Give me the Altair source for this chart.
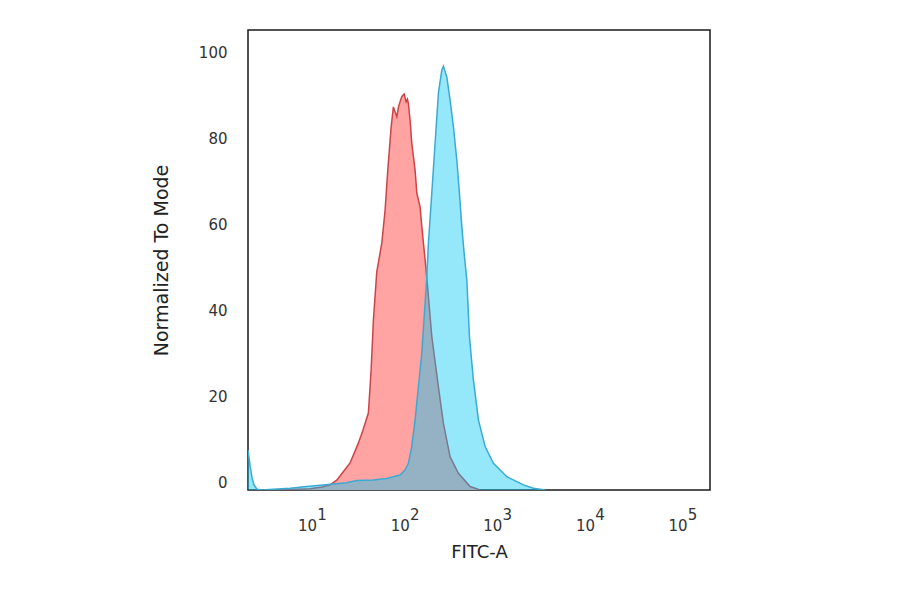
import altair as alt
import pandas as pd

# FITC-A intensity (x) and Normalized To Mode (y)
red_x = [3.56, 5.86, 9.63, 12.98, 15.84, 18.72, 21.88, 26.04, 32.0, 35.97, 41.05, 43.94,
         46.5, 50.55, 57.3, 62.2, 66.5, 72.3, 76.4, 79.8, 83.2, 87.1, 94.2, 99.8, 104.9,
         108.4, 111.0, 115.8, 120.7, 131.1, 136.8, 148.5, 155.0, 168.2, 178.1, 198.6, 234.0,
         265.0, 313.0, 384.6, 515.0, 660.0]
red_y = [0, 0.1, 0.3, 0.7, 1.2, 2.3, 4.2, 6.3, 10.9, 14.0, 17.9, 27.9,
         39.5, 50.7, 57.4, 65.1, 74.4, 84.4, 89.1, 87.9, 86.8, 89.3, 91.5, 92.1, 90.3,
         90.9, 89.9, 86.0, 80.7, 74.4, 69.1, 65.8, 61.2, 53.5, 47.7, 35.7, 24.0,
         15.5, 7.7, 3.9, 0.8, 0]

blue_x = [2.06, 2.17, 2.28, 2.39, 2.58, 2.92, 3.84, 5.86, 8.87, 17.2, 24.0, 30.8, 46.5,
          64.8, 90.3, 102.4, 111.0, 120.7, 131.1, 142.4, 155.0, 168.2, 175.4, 182.5, 198.6,
          215.6, 234.0, 254.7, 265.0, 288.4, 313.0, 340.0, 370.0, 394.6, 418.8, 443.5, 474.4,
          506.0, 558.5, 632.5, 747.6, 919.0, 1282.0, 1938.0, 2483.0, 3327.0]
blue_y = [9.3, 5.6, 2.8, 1.2, 0.2, 0, 0.2, 0.4, 0.8, 1.4, 1.7, 2.2, 2.3,
          2.7, 3.5, 4.7, 6.2, 10.1, 16.3, 24.0, 31.9, 43.5, 49.6, 57.4, 69.1,
          80.7, 92.3, 97.7, 98.6, 96.1, 90.7, 84.5, 76.7, 69.1, 61.2, 55.1, 48.8,
          35.7, 25.6, 16.3, 10.1, 6.2, 3.1, 1.2, 0.4, 0]

decades = [10, 100, 1000, 10000, 100000]
exponents = ["1", "2", "3", "4", "5"]
y_ticks = [0, 20, 40, 60, 80, 100]

W, H = 462, 460
FONT = "DejaVu Sans"

red = pd.DataFrame({"x": red_x, "y": red_y})
blue = pd.DataFrame({"x": blue_x, "y": blue_y})
ticks = pd.DataFrame({"x": decades, "exp": exponents})

xenc = alt.X(
    "x:Q",
    scale=alt.Scale(type="log", domain=[2.06, 2.0e5], nice=False),
    axis=alt.Axis(
        values=decades, labelExpr="'10'", ticks=False, domain=False, grid=False,
        labelFont=FONT, labelFontSize=15, labelColor="#333", labelOffset=-4.5,
        labelBaseline="middle", labelPadding=35, labelFlush=False,
        title="FITC-A", titleFont=FONT, titleFontSize=18, titleFontWeight="normal",
        titleColor="#222", titlePadding=10,
    ),
)
yenc = alt.Y(
    "y:Q",
    scale=alt.Scale(domain=[0, 107], nice=False, zero=False),
    axis=alt.Axis(
        values=y_ticks, ticks=False, domain=False, grid=False,
        labelFont=FONT, labelFontSize=15, labelColor="#333", labelOffset=-8,
        labelPadding=21, labelFlush=False,
        title="Normalized To Mode", titleFont=FONT, titleFontSize=19,
        titleFontWeight="normal", titleColor="#222", titlePadding=27,
    ),
)

red_area = alt.Chart(red).mark_area(color="#FFA3A3", clip=True, interpolate="linear").encode(x=xenc, y=yenc)
red_line = alt.Chart(red).mark_line(color="#CC4448", strokeWidth=1.5, clip=True).encode(x=xenc, y=yenc)
blue_area = alt.Chart(blue).mark_area(color="#00C8F3", fillOpacity=0.42, clip=True).encode(x=xenc, y=yenc)
blue_line = alt.Chart(blue).mark_line(color="#3AAAD2", strokeWidth=1.5, clip=True).encode(x=xenc, y=yenc)
exp_text = alt.Chart(ticks).mark_text(
    font=FONT, fontSize=15, color="#333", dx=10.5, baseline="middle", align="center"
).encode(x=xenc, y=alt.value(H + 25), text="exp:N")

chart = alt.layer(red_area, red_line, blue_area, blue_line, exp_text).properties(
    width=W, height=H,
    padding={"left": 240, "top": 22, "right": 10, "bottom": 100},
    autosize=alt.AutoSizeParams(type="none"),
).configure_view(stroke="#1a1a1a", strokeWidth=1.5)

chart.save("out.html", embed_options={"renderer": "svg", "actions": False})
